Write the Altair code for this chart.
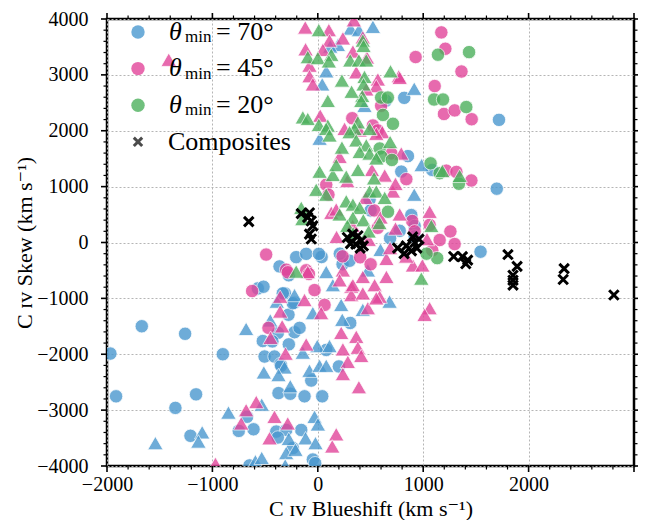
import altair as alt
import pandas as pd

# ---------------- data (km/s) ----------------
# theta_min = 70 deg (blue)
b70_circ = [(1719,2195),(820,2589),(644,2536),(855,1546),(792,1269),(1086,1299),(1698,963),(887,491),(777,209),(1544,-165),
            (919,295),(919,108),(686,76),(235,-390),(301,-327),(491,769),(501,574),(36,-260),(209,-200),
            (-363,-428),(-275,-587),(-569,-822),(-515,-792),(-313,-910),(-221,-1075),(-278,-1293),(-1670,-1499),(-1259,-1634),
            (-221,-1605),(-379,-1617),(-522,-1764),(-431,-1770),(-275,-1823),(-1968,-1988),(-901,-2000),(-505,-2041),(-411,-2041),
            (-354,-2177),(-373,-2695),(-261,-2707),(-1914,-2753),(-1155,-2718),(-1351,-2960),(-671,-3119),(-750,-3372),(-610,-3343),
            (-394,-3384),(-300,-3355),(-379,-3490),(-1208,-3460),(-648,-3990),(-205,-262),(-110,-203),(10,-203),(-332,-910),
            (-237,-1087),(-173,-1528),(-348,-2205),(-126,-2753),(42,-2753),(-62,-2471),(80,-1923),(200,-2218),(308,-1440),
            (-157,-3355),(-237,-3678),(-47,-3884),(-25,-3950)]
b70_tri = [(311,3831),(390,3802),(523,3861),(191,3538),(118,3508),(80,3066),(42,2831),(915,2753),(443,2447),(17,1859),(915,857),(985,1387),
           (80,-527),(143,-763),(222,-1117),(-47,-1263),(-221,-940),(232,-1382),(-5,-1852),(111,-1852),(-142,-1970),(-79,-2294),
           (17,-2205),(80,-2205),(-31,-3119),(1,-3255),(-116,-3502),(-22,-3590),(-300,-3767),(-389,-1057),(-451,-1393),(-680,-1546),
           (-316,-2235),(-512,-2324),(-373,-2371),(-261,-2571),(-532,-2901),(-848,-3043),(-275,-3513),(-1097,-3396),(-1133,-3561),
           (-1541,-3590),(-212,-3708),(-592,-3914),(-532,-3855),(681,-1057),(427,-1205),(475,-498),(595,-130),(-309,-3990)]
# theta_min = 45 deg (pink)
b45_circ = [(1172,3760),(1210,3467),(928,3319),(1363,3060),(1109,2800),(1197,2300),(1299,2364),(1460,2206),(840,1134),(1219,1286),
            (1315,1263),(1457,1110),(896,385),(1061,315),(1258,198),(1156,44),(601,2447),(327,2224),(523,2094),(698,1594),(80,1034),
            (-490,-216),(-300,-486),(-623,-869),(-468,-1528),(-110,-498),(-31,-852),(64,-1117),(1298,-28),(1086,-141),(235,-248),
            (402,-265),(501,-390),(569,263),(101,855),(535,574),(919,200),(569,2006),(-284,-533),(-84,-564)]
b45_tri = [(-1414,3272),(-119,3849),(105,3802),(342,3979),(238,3654),(111,3614),(427,3673),(-116,3460),(48,3449),(333,3419),(466,3313),
           (-79,3166),(365,3048),(-79,2977),(-47,2831),(570,2919),(769,2977),(555,2801),(460,2742),(23,2271),(254,2035),(612,1976),
           (397,2006),(555,1947),(207,1534),(713,915),(128,533),(175,592),(777,2948),(792,1594),(777,504),(1061,551),(1036,62),
           (-357,-969),(-357,-1234),(-338,-1499),(-448,-1705),(-306,-1988),(-584,-2854),(-680,-3000),(-727,-3237),(-411,-3119),
           (-285,-3237),(-458,-3502),(-971,-3961),(-95,-527),(238,-498),(207,-675),(318,-792),(318,-940),(-126,-1028),(32,-1263),
           (222,-1617),(365,-1687),(-110,-1823),(238,-1911),(380,-1882),(412,-2029),(285,-2135),(238,-2353),(390,-2589),(175,-3431),
           (137,-3649),(1061,-1175),(1013,-1293),(903,-409),(992,-409),(427,-615),(539,-763),(587,-969),(475,-1175),(651,-615),
           (333,-763),(427,-910),(555,-998),(651,-292),(635,1200),(514,1300),(737,1050),(280,1100),(453,800),(595,450),(331,300),
           (178,100),(483,50),(737,250),(686,-100),(839,-250)]
# theta_min = 20 deg (green)
b20_circ = [(1140,3361),(1435,3407),(1103,2559),(1188,2559),(1409,2424),(1070,1417),(1156,1240),(1339,1051),(601,2594),(665,2594),
            (618,2283),(713,2124),(587,1682),(666,550),(1133,-280),(1032,-200),(603,1539),(703,1477)]
b20_tri = [(10,3802),(427,3614),(434,3520),(-95,3319),(1,3301),(128,3361),(105,3243),(308,3260),(390,3260),(460,3260),(443,2965),
           (690,3066),(434,2831),(422,2624),(95,2536),(412,2536),(-142,2241),(-95,2212),(10,2106),(95,2094),(380,2153),(491,2035),
           (349,2035),(80,2035),(111,1917),(301,1976),(365,1829),(460,1741),(397,1622),(491,1593),(555,1506),(17,1269),(143,1210),
           (270,1181),(175,1387),(-15,945),(80,857),(491,915),(555,915),(270,739),(333,680),(397,622),(1182,1281),(1346,1193),
           (1077,297),(-205,-520),(982,-645),(-147,420),(-157,622),(207,504),(333,445),(280,300),(432,400),(483,200),(585,350),
           (335,168),(635,800),(381,1300),(534,1150),(229,1700),(686,1800),(321,2700),(229,2900)]
# composites
composites = [(-655,374),(-157,516),(-79,533),(-62,385),(-47,297),(-79,150),(-62,62),(-96,450),
              (280,90),(331,150),(381,120),(412,30),(361,-30),(432,-60),(310,-20),(402,-100),
              (757,-100),(839,-60),(900,100),(920,0),(940,-100),(818,-200),(889,-150),(960,60),
              (1289,-250),(1372,-253),(1422,-315),(1404,-380),
              (1804,-216),(1891,-428),(1852,-587),(1852,-675),(1852,-763),(2337,-468),(2328,-663),(2809,-940)]

series_names = ["70", "45", "20"]
series_colors = ["#4a98cf", "#e2459a", "#4cb05c"]

x_major = [-2000, -1000, 0, 1000, 2000, 3000]
x_minor = [-1800, -1600, -1400, -1200, -800, -600, -400, -200, 200, 400, 600, 800,
           1200, 1400, 1600, 1800, 2200, 2400, 2600, 2800]
x_labels = [-2000, -1000, 0, 1000, 2000]
y_major = [-4000, -3000, -2000, -1000, 0, 1000, 2000, 3000, 4000]
y_minor = [-3800, -3600, -3400, -3200, -2800, -2600, -2400, -2200, -1800, -1600, -1400, -1200,
           -800, -600, -400, -200, 200, 400, 600, 800, 1200, 1400, 1600, 1800,
           2200, 2400, 2600, 2800, 3200, 3400, 3600, 3800]

XMIN, XMAX = -2000, 3000
YMIN, YMAX = -4000, 4000
W, H = 527, 447
FONT = "'Liberation Serif', 'Times New Roman', 'DejaVu Serif', serif"

rows = []
for name, circ, tri in [("70", b70_circ, b70_tri), ("45", b45_circ, b45_tri), ("20", b20_circ, b20_tri)]:
    for x, y in circ:
        rows.append({"x": x, "y": y, "series": name, "shape": "circle", "sz": 180})
    for x, y in tri:
        rows.append({"x": x, "y": y, "series": name, "shape": "triangle", "sz": 240})
df = pd.DataFrame(rows)
dfc = pd.DataFrame(composites, columns=["x", "y"])

xs = alt.Scale(domain=[XMIN, XMAX], nice=False, zero=False)
ys = alt.Scale(domain=[YMIN, YMAX], nice=False, zero=False)

xaxis = alt.Axis(values=x_labels, grid=True, gridDash=[2, 2], gridColor="#b5b5b5", gridWidth=1,
                 ticks=False, domain=False, labelFlush=False, labelFont=FONT, labelFontSize=20, labelColor="black",
                 labelPadding=8, title="C ɪᴠ Blueshift (km s⁻¹)", titleFont=FONT, titleFontSize=22,
                 titleFontWeight="normal", titleColor="black", titlePadding=4, format="d")
yaxis = alt.Axis(values=y_major, grid=True, gridDash=[2, 2], gridColor="#b5b5b5", gridWidth=1,
                 ticks=False, domain=False, labelFlush=False, labelFont=FONT, labelFontSize=20, labelColor="black",
                 labelPadding=19, title="C ɪᴠ Skew (km s⁻¹)", titleFont=FONT, titleFontSize=22,
                 titleFontWeight="normal", titleColor="black", titlePadding=0, format="d")


def X(field):
    return alt.X(field, scale=xs, axis=xaxis)


def Y(field):
    return alt.Y(field, scale=ys, axis=yaxis)


pts = alt.Chart(df).mark_point(filled=True, opacity=0.8, stroke="white", strokeWidth=0.8, clip=True).encode(
    x=X("x:Q"),
    y=Y("y:Q"),
    color=alt.Color("series:N", scale=alt.Scale(domain=series_names, range=series_colors), legend=None),
    shape=alt.Shape("shape:N", scale=alt.Scale(domain=["circle", "triangle"], range=["circle", "triangle-up"]), legend=None),
    size=alt.Size("sz:Q", scale=None),
)

XPATH = "M-1,-1L1,1M-1,1L1,-1"
comp = alt.Chart(dfc).mark_point(shape=XPATH, filled=False, color="black", strokeWidth=3, size=90, opacity=1, clip=True).encode(
    x=X("x:Q"),
    y=Y("y:Q"),
)


# ---- outward ticks on all four sides ----
def xticks(vals, L, w):
    d = pd.DataFrame({"x": vals})
    bot = alt.Chart(d).mark_rule(color="black", strokeWidth=w).encode(
        x=X("x:Q"), y=alt.value(H), y2=alt.value(H + L))
    top = alt.Chart(d).mark_rule(color="black", strokeWidth=w).encode(
        x=X("x:Q"), y=alt.value(0), y2=alt.value(-L))
    return [bot, top]


def yticks(vals, L, w):
    d = pd.DataFrame({"y": vals})
    lef = alt.Chart(d).mark_rule(color="black", strokeWidth=w).encode(
        y=Y("y:Q"), x=alt.value(0), x2=alt.value(-L))
    rig = alt.Chart(d).mark_rule(color="black", strokeWidth=w).encode(
        y=Y("y:Q"), x=alt.value(W), x2=alt.value(W + L))
    return [lef, rig]


tick_layers = xticks(x_major, 6, 1.6) + xticks(x_minor, 3.5, 1.2) + yticks(y_major, 6, 1.6) + yticks(y_minor, 3.5, 1.2)

# ---- legend (manual, to get the subscript) ----
one = pd.DataFrame({"a": [0]})
leg_layers = []
leg_y = [13, 49.6, 86.2, 122.8]
for i, (name, col) in enumerate(zip(series_names, series_colors)):
    cy = leg_y[i]
    leg_layers.append(alt.Chart(one).mark_point(filled=True, opacity=0.8, color=col, size=180, shape="circle").encode(
        x=alt.value(31), y=alt.value(cy)))
    leg_layers.append(alt.Chart(one).mark_text(text="θ", font=FONT, fontSize=26, fontStyle="italic", align="left",
                                               baseline="alphabetic", color="black").encode(x=alt.value(62), y=alt.value(cy + 7.5)))
    leg_layers.append(alt.Chart(one).mark_text(text="min", font=FONT, fontSize=17, align="left",
                                               baseline="alphabetic", color="black").encode(x=alt.value(78), y=alt.value(cy + 10)))
    leg_layers.append(alt.Chart(one).mark_text(text="= " + name + "°", font=FONT, fontSize=26, align="left",
                                               baseline="alphabetic", color="black").encode(x=alt.value(109), y=alt.value(cy + 7.5)))
leg_layers.append(alt.Chart(one).mark_point(shape=XPATH, filled=False, color="black", strokeWidth=3, size=70).encode(
    x=alt.value(31), y=alt.value(leg_y[3])))
leg_layers.append(alt.Chart(one).mark_text(text="Composites", font=FONT, fontSize=26, align="left",
                                           baseline="alphabetic", color="black").encode(x=alt.value(61), y=alt.value(leg_y[3] + 8.5)))

chart = alt.layer(pts, comp, *tick_layers, *leg_layers).properties(
    width=W, height=H,
    background="white",
    autosize=alt.AutoSizeParams(type="none"),
    padding={"left": 99, "top": 11, "right": 4, "bottom": 54},
).configure_view(stroke="black", strokeWidth=2.5).configure_axis(
    labelFont=FONT, titleFont=FONT, labelFontSize=20, titleFontSize=22, labelFlush=False,
    titleFontWeight="normal", labelColor="black", titleColor="black",
).configure_text(font=FONT)

chart.save("out.html", embed_options={"renderer": "svg", "actions": False})
